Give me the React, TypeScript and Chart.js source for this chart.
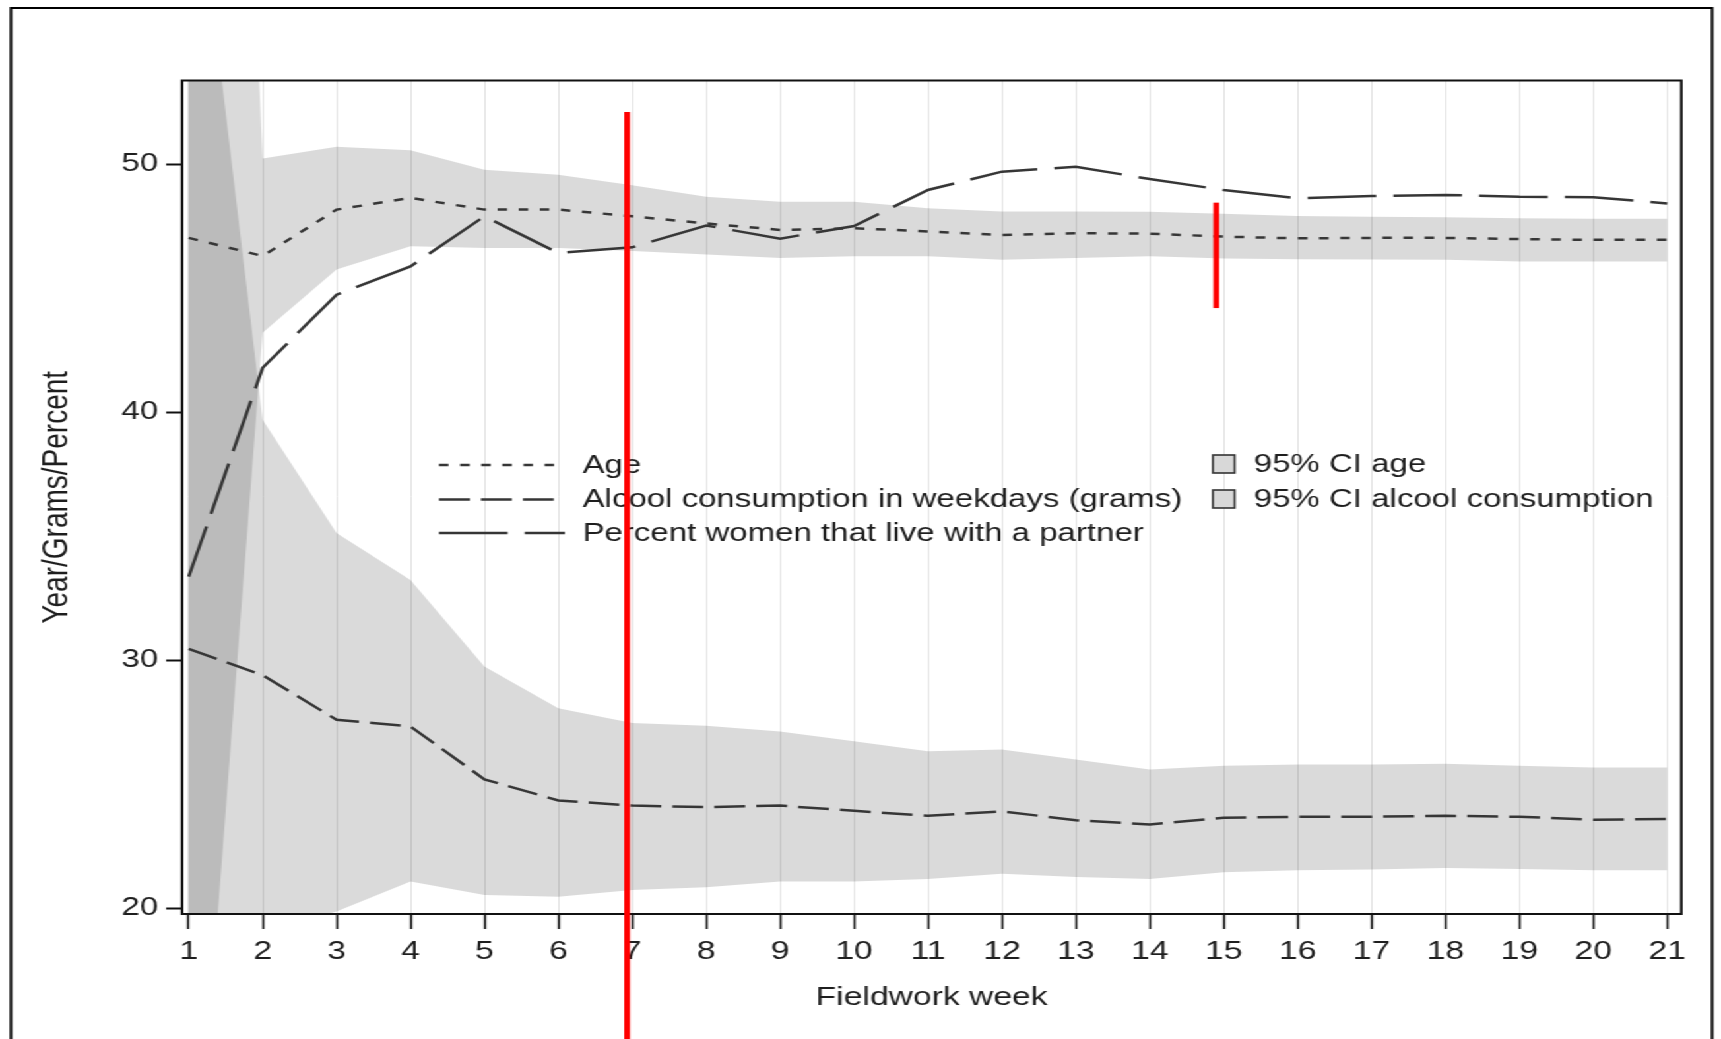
import React, { useEffect, useRef } from 'react';
import { Chart, registerables } from 'chart.js';

Chart.register(...registerables);

// ---------- data ----------
const weeks = [1, 2, 3, 4, 5, 6, 7, 8, 9, 10, 11, 12, 13, 14, 15, 16, 17, 18, 19, 20, 21];

const ageMean = [47.03, 46.3, 48.17, 48.64, 48.17, 48.17, 47.9, 47.61, 47.35, 47.42, 47.29, 47.15, 47.22, 47.2, 47.08, 47.01, 47.03, 47.03, 46.98, 46.95, 46.95];
const ageCiUpper = [120, 50.23, 50.7, 50.56, 49.78, 49.58, 49.15, 48.69, 48.49, 48.49, 48.22, 48.09, 48.09, 48.08, 48.0, 47.91, 47.88, 47.86, 47.82, 47.8, 47.8];
const ageCiLower = [4.6, 43.2, 45.75, 46.69, 46.62, 46.62, 46.5, 46.36, 46.22, 46.29, 46.29, 46.15, 46.22, 46.29, 46.2, 46.17, 46.16, 46.15, 46.08, 46.08, 46.08];

const alcoholMean = [30.46, 29.4, 27.6, 27.33, 25.2, 24.35, 24.14, 24.08, 24.14, 23.93, 23.73, 23.91, 23.55, 23.38, 23.65, 23.69, 23.69, 23.73, 23.69, 23.57, 23.6];
const alcoholCiUpper = [64.5, 39.7, 35.13, 33.24, 29.75, 28.07, 27.47, 27.36, 27.13, 26.73, 26.33, 26.4, 26.0, 25.6, 25.75, 25.8, 25.8, 25.83, 25.75, 25.68, 25.68];
const alcoholCiLower = [-3.7, 19.0, 19.87, 21.08, 20.54, 20.47, 20.74, 20.85, 21.08, 21.08, 21.18, 21.39, 21.26, 21.18, 21.45, 21.53, 21.56, 21.62, 21.58, 21.53, 21.53];

const percentPartner = [33.37, 41.79, 44.74, 45.88, 47.9, 46.42, 46.65, 47.53, 47.0, 47.51, 48.96, 49.7, 49.9, 49.4, 48.96, 48.63, 48.72, 48.76, 48.69, 48.67, 48.42];

const yTickValues = [20, 30, 40, 50];

const lineLegendLabels = ['Age', 'Alcool consumption in weekdays (grams)', 'Percent women that live with a partner'];
const bandLegendLabels = ['95% CI age', '95% CI alcool consumption'];

// red annotation marks (data coordinates: week, value range; null = to bottom of picture)
const redMarkWeeks = [6.93, 14.9];
const redMarkTops = [52.1, 48.45];
const redMarkBottoms: (number | null)[] = [null, 44.2];

// ---------- layout ----------
const CANVAS_W = 1304;
const CANVAS_H = 1039;
const STRETCH = 1721 / CANVAS_W;
const FONT = '"Liberation Sans", Arial, sans-serif';
const TEXT = '#1e1e1e';
const INK = '#111111';
const LINE = '#363636';
const BAND = 'rgba(0,0,0,0.145)';

const dashes = [[7.2, 8.8], [23.4, 8.4], [52, 13]];

const pts = (vals: number[]) => weeks.map((w, i) => ({ x: w, y: vals[i] }));

const decorPlugin = {
  id: 'decor',
  afterDraw(chart: any) {
    const { ctx, chartArea: a, scales } = chart;
    const xs = scales.x;
    const ys = scales.y;
    ctx.save();
    // plot frame
    ctx.strokeStyle = INK;
    ctx.lineWidth = 2;
    ctx.setLineDash([]);
    ctx.strokeRect(a.left, a.top, a.right - a.left, a.bottom - a.top);
    // outer border
    ctx.lineWidth = 2;
    ctx.strokeStyle = '#000';
    ctx.strokeRect(8.3, 8, 1289, 1100);

    // legend - line items
    const rowY = [465, 499.5, 533];
    const sampleEnd = [420, 421, 428];
    ctx.font = `25px ${FONT}`;
    ctx.textBaseline = 'middle';
    ctx.textAlign = 'left';
    lineLegendLabels.forEach((lab, i) => {
      ctx.strokeStyle = LINE;
      ctx.lineWidth = 2.5;
      ctx.setLineDash(dashes[i]);
      ctx.beginPath();
      ctx.moveTo(332.6, rowY[i]);
      ctx.lineTo(sampleEnd[i], rowY[i]);
      ctx.stroke();
      ctx.setLineDash([]);
      ctx.fillStyle = TEXT;
      ctx.fillText(lab, 441.4, rowY[i] + 1);
    });
    // legend - band items
    const bandY = [464, 499];
    bandLegendLabels.forEach((lab, i) => {
      ctx.fillStyle = '#d8d8d8';
      ctx.fillRect(919, bandY[i] - 9, 16.5, 18);
      ctx.strokeStyle = '#333';
      ctx.lineWidth = 1.6;
      ctx.strokeRect(919, bandY[i] - 9, 16.5, 18);
      ctx.fillStyle = TEXT;
      ctx.fillText(lab, 950, bandY[i] + 1);
    });

    // red marks
    ctx.strokeStyle = '#ff0000';
    ctx.lineWidth = 4.3;
    redMarkWeeks.forEach((w, i) => {
      const px = xs.getPixelForValue(w);
      const top = ys.getPixelForValue(redMarkTops[i]);
      const b = redMarkBottoms[i];
      const bottom = b === null ? chart.height : ys.getPixelForValue(b);
      ctx.beginPath();
      ctx.moveTo(px, top);
      ctx.lineTo(px, bottom);
      ctx.stroke();
    });
    ctx.restore();
  },
};

export default function App() {
  const canvasRef = useRef<HTMLCanvasElement | null>(null);

  useEffect(() => {
    const canvas = canvasRef.current;
    if (!canvas) return;
    Chart.defaults.font.family = FONT;

    const band = (vals: number[], fill: any) => ({
      type: 'line' as const,
      data: pts(vals),
      borderColor: 'rgba(0,0,0,0)',
      borderWidth: 1,
      backgroundColor: BAND,
      fill,
      pointRadius: 0,
      tension: 0,
      order: 2,
    });
    const line = (label: string, vals: number[], dash: number[]) => ({
      type: 'line' as const,
      label,
      data: pts(vals),
      borderColor: LINE,
      borderWidth: 2.5,
      borderDash: dash,
      fill: false,
      pointRadius: 0,
      tension: 0,
      order: 0,
    });

    const chart = new Chart(canvas, {
      type: 'line',
      data: {
        datasets: [
          line(lineLegendLabels[0], ageMean, dashes[0]),
          line(lineLegendLabels[1], alcoholMean, dashes[1]),
          line(lineLegendLabels[2], percentPartner, dashes[2]),
          { ...band(ageCiUpper, '+1'), label: bandLegendLabels[0] },
          band(ageCiLower, false),
          { ...band(alcoholCiUpper, '+1'), label: bandLegendLabels[1] },
          band(alcoholCiLower, false),
        ] as any,
      },
      options: {
        responsive: false,
        maintainAspectRatio: false,
        devicePixelRatio: 1,
        animation: false,
        events: [],
        layout: { padding: { top: 80.5, right: 30.1, left: 0, bottom: 0 } },
        plugins: {
          legend: { display: false },
          tooltip: { enabled: false },
          title: { display: false },
        },
        scales: {
          x: {
            type: 'linear',
            position: 'bottom',
            min: 0.909,
            max: 21.19,
            afterBuildTicks: (s: any) => {
              s.ticks = weeks.map((v) => ({ value: v }));
            },
            afterFit: (s: any) => {
              s.height = 125;
            },
            ticks: {
              autoSkip: false,
              maxRotation: 0,
              padding: 8,
              color: TEXT,
              font: { size: 25.5, family: FONT },
              callback: (v: any) => String(v),
            },
            grid: {
              display: true,
              drawOnChartArea: true,
              color: '#e2e2e2',
              lineWidth: 1,
              drawTicks: true,
              tickLength: 15,
              tickColor: INK,
              tickWidth: 1.6,
            },
            border: { display: true, color: INK, width: 2 },
            title: {
              display: true,
              text: 'Fieldwork week',
              color: TEXT,
              font: { size: 25.5, family: FONT },
              padding: { top: 0, bottom: 25.7 },
            },
          },
          y: {
            type: 'linear',
            min: 19.77,
            max: 53.375,
            afterBuildTicks: (s: any) => {
              s.ticks = yTickValues.map((v) => ({ value: v }));
            },
            afterFit: (s: any) => {
              s.width = 137.9;
            },
            ticks: {
              padding: 6,
              color: TEXT,
              font: { size: 25, family: FONT },
              callback: (v: any) => String(v),
            },
            grid: {
              display: true,
              drawOnChartArea: false,
              drawTicks: true,
              tickLength: 12,
              tickColor: INK,
              tickWidth: 2,
            },
            border: { display: true, color: INK, width: 2 },
            title: {
              display: true,
              text: 'Year/Grams/Percent',
              color: TEXT,
              font: { size: 28, family: FONT },
              padding: { top: 26.2, bottom: 0 },
            },
          },
        },
      } as any,
      plugins: [decorPlugin],
    });

    return () => {
      chart.destroy();
    };
  }, []);

  return (
    <div
      style={{
        position: 'fixed',
        left: 0,
        top: 0,
        width: CANVAS_W,
        height: CANVAS_H,
        background: '#ffffff',
        transform: `scaleX(${STRETCH})`,
        transformOrigin: '0 0',
      }}
    >
      <canvas ref={canvasRef} width={CANVAS_W} height={CANVAS_H} />
    </div>
  );
}
